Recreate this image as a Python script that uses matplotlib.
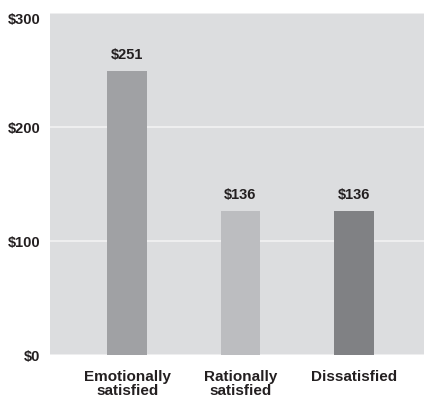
import matplotlib
matplotlib.use('Agg')
import matplotlib.pyplot as plt

plt.rcParams['font.family'] = ['Liberation Sans', 'DejaVu Sans']

# Data
categories = ["Emotionally\nsatisfied", "Rationally\nsatisfied", "Dissatisfied"]
bar_heights = [249, 126, 126]          # drawn heights as they appear
value_labels = [251, 136, 136]          # printed labels
bar_colors = ["#a0a1a4", "#bcbdc0", "#808184"]
yticks = [0, 100, 200, 300]

text_color = "#231f20"

fig = plt.figure(figsize=(4.24, 4.0), dpi=100)
ax = fig.add_axes([50/424, 45/400, 374/424, 342/400])
ax.set_facecolor("#dcdddf")

x = list(range(len(categories)))
ax.bar(x, bar_heights, width=0.35, color=bar_colors, zorder=3)

for xi, h, v in zip(x, bar_heights, value_labels):
    ax.text(xi, h + 8, f"${v}", ha='center', va='bottom', fontsize=10.5,
            fontweight='bold', color=text_color)

ax.set_xlim(-0.68, 2.62)
ax.set_ylim(0, 300)
ax.set_yticks(yticks)
ax.set_yticklabels([f"${t}" for t in yticks], fontsize=10.5, fontweight='bold', color=text_color)
ax.get_yticklabels()[-1].set_va('top')
ax.yaxis.grid(True, color='#f4f4f5', linewidth=1.1, zorder=1)
ax.set_axisbelow(True)
ax.tick_params(axis='y', length=0, pad=7)
ax.tick_params(axis='x', length=0, pad=11)
ax.set_xticks(x)
ax.set_xticklabels(categories, fontsize=11, fontweight='bold', color=text_color,
                   linespacing=0.95, va='top')
for s in ax.spines.values():
    s.set_visible(False)

fig.savefig("out.png", dpi=100)
